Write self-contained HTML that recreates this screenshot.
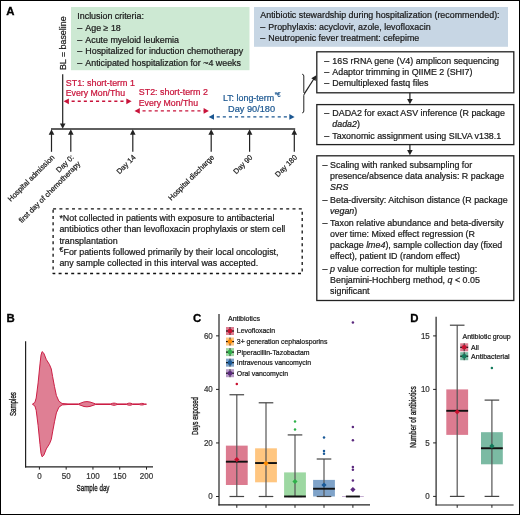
<!DOCTYPE html>
<html><head><meta charset="utf-8"><style>
html,body{margin:0;padding:0;background:#fff;}
svg{display:block;font-family:"Liberation Sans", sans-serif;will-change:transform;}
text{stroke-width:0.22px;}
</style></head><body>
<svg width="520" height="515" viewBox="0 0 520 515">
<rect x="0" y="0" width="520" height="515" fill="#fff"/>
<text x="6.2" y="14.6" font-size="11.4" font-weight="bold" fill="#000" stroke="#000" style="stroke-width:0.3px">A</text>
<text x="6.6" y="322.4" font-size="11.4" font-weight="bold" fill="#000" stroke="#000" style="stroke-width:0.3px">B</text>
<text x="193.0" y="322.4" font-size="11.4" font-weight="bold" fill="#000" stroke="#000" style="stroke-width:0.3px">C</text>
<text x="410.3" y="322.4" font-size="11.4" font-weight="bold" fill="#000" stroke="#000" style="stroke-width:0.3px">D</text>
<rect x="71" y="7" width="178.5" height="63.2" fill="#cde9d3"/>
<text x="77.3" y="18.8" font-size="8.9" fill="#1a1a1a" stroke="#1a1a1a" text-anchor="start" >Inclusion criteria:</text>
<text x="77.3" y="31.1" font-size="8.9" fill="#1a1a1a" stroke="#1a1a1a">–<tspan x="85.3">Age ≥ 18</tspan></text>
<text x="77.3" y="42.6" font-size="8.9" fill="#1a1a1a" stroke="#1a1a1a">–<tspan x="85.3">Acute myeloid leukemia</tspan></text>
<text x="77.3" y="54.2" font-size="8.9" fill="#1a1a1a" stroke="#1a1a1a">–<tspan x="85.3">Hospitalized for induction chemotherapy</tspan></text>
<text x="77.3" y="65.5" font-size="8.9" fill="#1a1a1a" stroke="#1a1a1a">–<tspan x="85.3">Anticipated hospitalization for ~4 weeks</tspan></text>
<rect x="254" y="7" width="254" height="39.8" fill="#c7d6e4"/>
<text x="260.3" y="18.2" font-size="8.9" fill="#1a1a1a" stroke="#1a1a1a" text-anchor="start" >Antibiotic stewardship during hospitalization (recommended):</text>
<text x="260.3" y="29.7" font-size="8.9" fill="#1a1a1a" stroke="#1a1a1a">–<tspan x="268.3">Prophylaxis: acyclovir, azole, levofloxacin</tspan></text>
<text x="260.3" y="41.0" font-size="8.9" fill="#1a1a1a" stroke="#1a1a1a">–<tspan x="268.3">Neutropenic fever treatment: cefepime</tspan></text>
<text transform="translate(66.2,70.1) rotate(-90)" x="0" y="0" font-size="8.9" fill="#1a1a1a" stroke="#1a1a1a">BL = baseline</text>
<line x1="51" y1="129.0" x2="295.2" y2="129.0" stroke="#2a2a2a" stroke-width="1.4"/>
<line x1="51.5" y1="151.8" x2="51.5" y2="133" stroke="#222" stroke-width="1.2"/>
<path d="M51.50,129.30 L54.30,134.70 L48.70,134.70 Z" fill="#222"/>
<line x1="70.8" y1="151.8" x2="70.8" y2="133" stroke="#222" stroke-width="1.2"/>
<path d="M70.80,129.30 L73.60,134.70 L68.00,134.70 Z" fill="#222"/>
<line x1="132.8" y1="151.8" x2="132.8" y2="133" stroke="#222" stroke-width="1.2"/>
<path d="M132.80,129.30 L135.60,134.70 L130.00,134.70 Z" fill="#222"/>
<line x1="211.2" y1="151.8" x2="211.2" y2="133" stroke="#222" stroke-width="1.2"/>
<path d="M211.20,129.30 L214.00,134.70 L208.40,134.70 Z" fill="#222"/>
<line x1="249.6" y1="151.8" x2="249.6" y2="133" stroke="#222" stroke-width="1.2"/>
<path d="M249.60,129.30 L252.40,134.70 L246.80,134.70 Z" fill="#222"/>
<line x1="294.3" y1="151.8" x2="294.3" y2="133" stroke="#222" stroke-width="1.2"/>
<path d="M294.30,129.30 L297.10,134.70 L291.50,134.70 Z" fill="#222"/>
<line x1="62.7" y1="74.3" x2="62.7" y2="124" stroke="#222" stroke-width="1.2"/>
<path d="M62.70,128.80 L59.90,123.40 L65.50,123.40 Z" fill="#222"/>
<line x1="68.6" y1="101.3" x2="126.6" y2="101.3" stroke="#c8133a" stroke-width="1.4" stroke-dasharray="3.1,3" stroke-dashoffset="-3"/>
<path d="M63.60,101.30 L68.90,98.40 L68.90,104.20 Z" fill="#c8133a"/>
<path d="M131.60,101.30 L126.30,104.20 L126.30,98.40 Z" fill="#c8133a"/>
<line x1="139.5" y1="110.9" x2="203.9" y2="110.9" stroke="#c8133a" stroke-width="1.4" stroke-dasharray="3.1,3" stroke-dashoffset="-3"/>
<path d="M134.50,110.90 L139.80,108.00 L139.80,113.80 Z" fill="#c8133a"/>
<path d="M208.90,110.90 L203.60,113.80 L203.60,108.00 Z" fill="#c8133a"/>
<line x1="213.7" y1="116.9" x2="289.6" y2="116.9" stroke="#1b5791" stroke-width="1.4" stroke-dasharray="3.1,3" stroke-dashoffset="-3"/>
<path d="M208.70,116.90 L214.00,114.00 L214.00,119.80 Z" fill="#1b5791"/>
<path d="M294.60,116.90 L289.30,119.80 L289.30,114.00 Z" fill="#1b5791"/>
<text x="65.8" y="85.6" font-size="8.9" fill="#c8133a" stroke="#c8133a" text-anchor="start" >ST1: short-term 1</text>
<text x="65.8" y="96.4" font-size="8.9" fill="#c8133a" stroke="#c8133a" text-anchor="start" textLength="59.2" lengthAdjust="spacingAndGlyphs">Every Mon/Thu</text>
<text x="138.8" y="94.7" font-size="8.9" fill="#c8133a" stroke="#c8133a" text-anchor="start" >ST2: short-term 2</text>
<text x="138.8" y="105.6" font-size="8.9" fill="#c8133a" stroke="#c8133a" text-anchor="start" textLength="59.2" lengthAdjust="spacingAndGlyphs">Every Mon/Thu</text>
<text x="222.9" y="100.7" font-size="8.9" fill="#1b5791" stroke="#1b5791">LT: long-term<tspan font-size="6.3" dx="0.6" dy="-3.3">*€</tspan></text>
<text x="228.1" y="111.9" font-size="9.2" fill="#1b5791" stroke="#1b5791" text-anchor="start" >Day 90/180</text>
<text transform="translate(55.0,157.8) rotate(-45)" x="0" y="0" font-size="7.45" fill="#1a1a1a" stroke="#1a1a1a" text-anchor="end">Hospital admission</text>
<text transform="translate(74.3,157.8) rotate(-45)" x="0" y="0" font-size="7.45" fill="#1a1a1a" stroke="#1a1a1a" text-anchor="end">Day 0:</text>
<text transform="translate(80.8,164.3) rotate(-45)" x="0" y="0" font-size="7.45" fill="#1a1a1a" stroke="#1a1a1a" text-anchor="end">first day of chemotherapy</text>
<text transform="translate(136.2,157.8) rotate(-45)" x="0" y="0" font-size="7.45" fill="#1a1a1a" stroke="#1a1a1a" text-anchor="end">Day 14</text>
<text transform="translate(214.6,157.8) rotate(-45)" x="0" y="0" font-size="7.45" fill="#1a1a1a" stroke="#1a1a1a" text-anchor="end">Hospital discharge</text>
<text transform="translate(253.0,157.8) rotate(-45)" x="0" y="0" font-size="7.45" fill="#1a1a1a" stroke="#1a1a1a" text-anchor="end">Day 90</text>
<text transform="translate(297.7,157.8) rotate(-45)" x="0" y="0" font-size="7.45" fill="#1a1a1a" stroke="#1a1a1a" text-anchor="end">Day 180</text>
<rect x="53.1" y="208.8" width="249.1" height="64.7" fill="none" stroke="#111" stroke-width="1.3" stroke-dasharray="3,3.3" stroke-linejoin="round"/>
<text x="59.4" y="221.1" font-size="8.9" fill="#1a1a1a" stroke="#1a1a1a" text-anchor="start" >*Not collected in patients with exposure to antibacterial</text>
<text x="59.4" y="232.1" font-size="8.9" fill="#1a1a1a" stroke="#1a1a1a" text-anchor="start" >antibiotics other than levofloxacin prophylaxis or stem cell</text>
<text x="59.4" y="243.5" font-size="8.9" fill="#1a1a1a" stroke="#1a1a1a" text-anchor="start" >transplantation</text>
<text x="59.4" y="254.5" font-size="8.9" fill="#1a1a1a" stroke="#1a1a1a"><tspan font-size="6.8" dy="-3">€</tspan><tspan dy="3" dx="0.3">For patients followed primarily by their local oncologist,</tspan></text>
<text x="59.4" y="265.6" font-size="8.9" fill="#1a1a1a" stroke="#1a1a1a" text-anchor="start" >any sample collected in this interval was accepted.</text>
<rect x="316.8" y="51.8" width="196.99999999999994" height="41.0" fill="none" stroke="#222" stroke-width="1.3"/>
<rect x="316.8" y="104.6" width="196.99999999999994" height="40.0" fill="none" stroke="#222" stroke-width="1.3"/>
<rect x="316.8" y="155.8" width="196.99999999999994" height="144.7" fill="none" stroke="#222" stroke-width="1.3"/>
<line x1="409.9" y1="92.8" x2="409.9" y2="100" stroke="#222" stroke-width="1.2"/>
<path d="M409.90,104.20 L407.10,99.00 L412.70,99.00 Z" fill="#222"/>
<line x1="409.9" y1="144.6" x2="409.9" y2="151" stroke="#222" stroke-width="1.2"/>
<path d="M409.90,155.30 L407.10,150.10 L412.70,150.10 Z" fill="#222"/>
<path d="M302.2,74.2 Q303.8,74.4 303.8,76 L303.8,91.8 Q303.8,93.4 305,93.6 Q303.8,93.8 303.8,95.4 L303.8,111 Q303.8,112.8 302.2,112.9" fill="none" stroke="#222" stroke-width="1.0"/>
<line x1="304.6" y1="93.4" x2="313.8" y2="79.0" stroke="#222" stroke-width="1.2"/>
<path d="M316.30,75.20 L315.68,80.98 L311.30,78.17 Z" fill="#222"/>
<text x="324.3" y="63.6" font-size="8.9" fill="#1a1a1a" stroke="#1a1a1a">–</text>
<text x="332.3" y="63.6" font-size="8.9" fill="#1a1a1a" stroke="#1a1a1a">16S rRNA gene (V4) amplicon sequencing</text>
<text x="324.3" y="74.6" font-size="8.9" fill="#1a1a1a" stroke="#1a1a1a">–</text>
<text x="332.3" y="74.6" font-size="8.9" fill="#1a1a1a" stroke="#1a1a1a">Adaptor trimming in QIIME 2 (SHI7)</text>
<text x="324.3" y="86.3" font-size="8.9" fill="#1a1a1a" stroke="#1a1a1a">–</text>
<text x="332.3" y="86.3" font-size="8.9" fill="#1a1a1a" stroke="#1a1a1a">Demultiplexed fastq files</text>
<text x="324.3" y="115.6" font-size="8.9" fill="#1a1a1a" stroke="#1a1a1a">–</text>
<text x="332.3" y="115.6" font-size="8.9" fill="#1a1a1a" stroke="#1a1a1a">DADA2 for exact ASV inference (R package</text>
<text x="332.3" y="126.89999999999999" font-size="8.9" fill="#1a1a1a" stroke="#1a1a1a"><tspan font-style="italic">dada2</tspan>)</text>
<text x="324.3" y="138.8" font-size="8.9" fill="#1a1a1a" stroke="#1a1a1a">–</text>
<text x="332.3" y="138.8" font-size="8.9" fill="#1a1a1a" stroke="#1a1a1a">Taxonomic assignment using SILVA v138.1</text>
<text x="322.4" y="168.1" font-size="8.9" fill="#1a1a1a" stroke="#1a1a1a">–</text>
<text x="330.1" y="168.1" font-size="8.9" fill="#1a1a1a" stroke="#1a1a1a">Scaling with ranked subsampling for</text>
<text x="330.1" y="179.1" font-size="8.9" fill="#1a1a1a" stroke="#1a1a1a">presence/absence data analysis: R package</text>
<text x="330.1" y="190.1" font-size="8.9" fill="#1a1a1a" stroke="#1a1a1a"><tspan font-style="italic">SRS</tspan></text>
<text x="322.4" y="202.8" font-size="8.9" fill="#1a1a1a" stroke="#1a1a1a">–</text>
<text x="330.1" y="202.8" font-size="8.9" fill="#1a1a1a" stroke="#1a1a1a">Beta-diversity: Aitchison distance (R package</text>
<text x="330.1" y="213.70000000000002" font-size="8.9" fill="#1a1a1a" stroke="#1a1a1a"><tspan font-style="italic">vegan</tspan>)</text>
<text x="322.4" y="226.2" font-size="8.9" fill="#1a1a1a" stroke="#1a1a1a">–</text>
<text x="330.1" y="226.2" font-size="8.9" fill="#1a1a1a" stroke="#1a1a1a">Taxon relative abundance and beta-diversity</text>
<text x="330.1" y="237.2" font-size="8.9" fill="#1a1a1a" stroke="#1a1a1a">over time: Mixed effect regression (R</text>
<text x="330.1" y="248.2" font-size="8.9" fill="#1a1a1a" stroke="#1a1a1a">package <tspan font-style="italic">lme4</tspan>), sample collection day (fixed</text>
<text x="330.1" y="259.2" font-size="8.9" fill="#1a1a1a" stroke="#1a1a1a">effect), patient ID (random effect)</text>
<text x="322.4" y="271.9" font-size="8.9" fill="#1a1a1a" stroke="#1a1a1a">–</text>
<text x="330.1" y="271.9" font-size="8.9" fill="#1a1a1a" stroke="#1a1a1a"><tspan font-style="italic">p</tspan> value correction for multiple testing:</text>
<text x="330.1" y="282.79999999999995" font-size="8.9" fill="#1a1a1a" stroke="#1a1a1a">Benjamini-Hochberg method, <tspan font-style="italic">q</tspan> &lt; 0.05</text>
<text x="330.1" y="293.69999999999993" font-size="8.9" fill="#1a1a1a" stroke="#1a1a1a">significant</text>
<line x1="25.6" y1="341.3" x2="25.6" y2="467.4" stroke="#222" stroke-width="1.2"/>
<line x1="25.0" y1="466.8" x2="153" y2="466.8" stroke="#222" stroke-width="1.2"/>
<line x1="39.40" y1="467" x2="39.40" y2="469.6" stroke="#222" stroke-width="1"/>
<text transform="translate(39.40,478.6) scale(0.92,1)" x="0" y="0" font-size="8.7" fill="#333" stroke="#333" text-anchor="middle" >0</text>
<line x1="66.17" y1="467" x2="66.17" y2="469.6" stroke="#222" stroke-width="1"/>
<text transform="translate(66.17,478.6) scale(0.92,1)" x="0" y="0" font-size="8.7" fill="#333" stroke="#333" text-anchor="middle" >50</text>
<line x1="92.95" y1="467" x2="92.95" y2="469.6" stroke="#222" stroke-width="1"/>
<text transform="translate(92.95,478.6) scale(0.92,1)" x="0" y="0" font-size="8.7" fill="#333" stroke="#333" text-anchor="middle" >100</text>
<line x1="119.72" y1="467" x2="119.72" y2="469.6" stroke="#222" stroke-width="1"/>
<text transform="translate(119.72,478.6) scale(0.92,1)" x="0" y="0" font-size="8.7" fill="#333" stroke="#333" text-anchor="middle" >150</text>
<line x1="146.50" y1="467" x2="146.50" y2="469.6" stroke="#222" stroke-width="1"/>
<text transform="translate(146.50,478.6) scale(0.92,1)" x="0" y="0" font-size="8.7" fill="#333" stroke="#333" text-anchor="middle" >200</text>
<text x="93" y="490.6" font-size="9.8" fill="#1a1a1a" stroke="#1a1a1a" text-anchor="middle" textLength="33" lengthAdjust="spacingAndGlyphs" style="stroke-width:0.35px">Sample day</text>
<text transform="translate(16.4,404.1) rotate(-90)" font-size="9.0" fill="#1a1a1a" stroke="#1a1a1a" text-anchor="middle" textLength="24" lengthAdjust="spacingAndGlyphs" style="stroke-width:0.35px">Samples</text>
<path d="M32.40,404.20 L34.90,402.40 L36.20,398.00 L38.10,382.90 L40.00,363.90 L41.00,355.10 L42.10,351.60 L43.80,353.20 L46.30,359.50 L49.50,364.60 L51.30,369.00 L52.60,376.50 L54.50,386.60 L56.40,395.50 L58.90,401.20 L62.10,403.50 L68.00,403.90 L78.50,403.90 L81.00,403.00 L84.00,401.90 L87.00,401.60 L90.00,402.00 L93.00,403.00 L95.60,403.90 L110.80,403.90 L112.50,403.30 L114.00,403.10 L115.50,403.30 L117.00,403.90 L126.80,403.90 L128.20,403.30 L129.60,403.10 L131.00,403.30 L132.60,403.90 L139.20,403.90 L140.50,403.50 L141.70,403.40 L143.00,403.50 L144.30,403.90 L146.50,404.20 L146.50,404.20 L144.30,404.50 L143.00,404.90 L141.70,405.00 L140.50,404.90 L139.20,404.50 L132.60,404.50 L131.00,405.10 L129.60,405.30 L128.20,405.10 L126.80,404.50 L117.00,404.50 L115.50,405.10 L114.00,405.30 L112.50,405.10 L110.80,404.50 L95.60,404.50 L93.00,405.40 L90.00,406.40 L87.00,406.80 L84.00,406.50 L81.00,405.40 L78.50,404.50 L68.00,404.50 L62.10,404.90 L58.90,407.20 L56.40,412.90 L54.50,421.80 L52.60,431.90 L51.30,439.40 L49.50,443.80 L46.30,448.90 L43.80,455.20 L42.10,456.80 L41.00,453.30 L40.00,444.50 L38.10,425.50 L36.20,410.40 L34.90,406.00 L32.40,404.20 Z" fill="#df7f94" stroke="#c9173f" stroke-width="0.95" stroke-linejoin="round"/>
<line x1="219" y1="314" x2="219" y2="505.4" stroke="#222" stroke-width="1.2"/>
<line x1="218.4" y1="504.8" x2="370" y2="504.8" stroke="#222" stroke-width="1.2"/>
<line x1="216" y1="496.50" x2="219" y2="496.50" stroke="#222" stroke-width="1"/>
<text transform="translate(212.8,499.40) scale(0.92,1)" x="0" y="0" font-size="8.7" fill="#333" stroke="#333" text-anchor="end" >0</text>
<line x1="216" y1="442.95" x2="219" y2="442.95" stroke="#222" stroke-width="1"/>
<text transform="translate(212.8,445.85) scale(0.92,1)" x="0" y="0" font-size="8.7" fill="#333" stroke="#333" text-anchor="end" >20</text>
<line x1="216" y1="389.40" x2="219" y2="389.40" stroke="#222" stroke-width="1"/>
<text transform="translate(212.8,392.30) scale(0.92,1)" x="0" y="0" font-size="8.7" fill="#333" stroke="#333" text-anchor="end" >40</text>
<line x1="216" y1="335.85" x2="219" y2="335.85" stroke="#222" stroke-width="1"/>
<text transform="translate(212.8,338.75) scale(0.92,1)" x="0" y="0" font-size="8.7" fill="#333" stroke="#333" text-anchor="end" >60</text>
<text transform="translate(198.0,416.1) rotate(-90)" font-size="9.8" fill="#1a1a1a" stroke="#1a1a1a" text-anchor="middle" textLength="37.8" lengthAdjust="spacingAndGlyphs" style="stroke-width:0.35px">Days exposed</text>
<rect x="225.90" y="445.63" width="21.8" height="39.36" fill="#dc7b90"/>
<line x1="236.8" y1="394.75" x2="236.8" y2="496.50" stroke="#555" stroke-width="1.2"/>
<line x1="229.50" y1="394.75" x2="244.10" y2="394.75" stroke="#444" stroke-width="1.2"/>
<line x1="229.50" y1="496.50" x2="244.10" y2="496.50" stroke="#444" stroke-width="1.2"/>
<line x1="225.90" y1="461.69" x2="247.70" y2="461.69" stroke="#111" stroke-width="1.9"/>
<path d="M236.8,456.95 L239.4,459.55 L236.8,462.15 L234.20000000000002,459.55 Z" fill="#c8102e"/>
<circle cx="236.8" cy="384.04" r="1.25" fill="#c8102e"/>
<rect x="255.10" y="448.31" width="21.8" height="34.00" fill="#ffc680"/>
<line x1="266.0" y1="402.79" x2="266.0" y2="496.50" stroke="#555" stroke-width="1.2"/>
<line x1="258.70" y1="402.79" x2="273.30" y2="402.79" stroke="#444" stroke-width="1.2"/>
<line x1="258.70" y1="496.50" x2="273.30" y2="496.50" stroke="#444" stroke-width="1.2"/>
<line x1="255.10" y1="463.03" x2="276.90" y2="463.03" stroke="#111" stroke-width="1.9"/>
<path d="M266.0,460.70 L268.6,463.30 L266.0,465.90 L263.4,463.30 Z" fill="#ff8c00"/>
<rect x="284.10" y="472.40" width="21.8" height="24.10" fill="#9dd8a2"/>
<line x1="295.0" y1="434.92" x2="295.0" y2="496.50" stroke="#555" stroke-width="1.2"/>
<line x1="287.70" y1="434.92" x2="302.30" y2="434.92" stroke="#444" stroke-width="1.2"/>
<line x1="287.70" y1="496.50" x2="302.30" y2="496.50" stroke="#444" stroke-width="1.2"/>
<line x1="284.10" y1="496.50" x2="305.90" y2="496.50" stroke="#111" stroke-width="1.9"/>
<path d="M295.0,478.91 L297.6,481.51 L295.0,484.11 L292.4,481.51 Z" fill="#2eb14a"/>
<circle cx="295.0" cy="429.56" r="1.25" fill="#2eb14a"/>
<circle cx="295.0" cy="421.53" r="1.25" fill="#2eb14a"/>
<rect x="313.10" y="479.90" width="21.8" height="16.60" fill="#7fa3c9"/>
<line x1="324.0" y1="459.01" x2="324.0" y2="496.50" stroke="#555" stroke-width="1.2"/>
<line x1="316.70" y1="459.01" x2="331.30" y2="459.01" stroke="#444" stroke-width="1.2"/>
<line x1="316.70" y1="496.50" x2="331.30" y2="496.50" stroke="#444" stroke-width="1.2"/>
<line x1="313.10" y1="488.74" x2="334.90" y2="488.74" stroke="#111" stroke-width="1.9"/>
<path d="M324.0,482.39 L326.6,484.99 L324.0,487.59 L321.4,484.99 Z" fill="#1a5a98"/>
<circle cx="324.0" cy="453.66" r="1.25" fill="#1a5a98"/>
<circle cx="324.0" cy="450.98" r="1.25" fill="#1a5a98"/>
<circle cx="324.0" cy="437.59" r="1.25" fill="#1a5a98"/>
<line x1="342.00" y1="496.50" x2="363.80" y2="496.50" stroke="#b89ac8" stroke-width="0.8"/>
<line x1="345.90" y1="496.50" x2="359.90" y2="496.50" stroke="#111" stroke-width="1.9"/>
<path d="M352.9,486.94 L355.5,489.54 L352.9,492.14 L350.29999999999995,489.54 Z" fill="#5b2a7e"/>
<circle cx="352.9" cy="480.44" r="1.25" fill="#5b2a7e"/>
<circle cx="352.9" cy="469.73" r="1.25" fill="#5b2a7e"/>
<circle cx="352.9" cy="467.05" r="1.25" fill="#5b2a7e"/>
<circle cx="352.9" cy="440.27" r="1.25" fill="#5b2a7e"/>
<circle cx="352.9" cy="426.88" r="1.25" fill="#5b2a7e"/>
<circle cx="352.9" cy="322.46" r="1.25" fill="#5b2a7e"/>
<line x1="236.8" y1="505" x2="236.8" y2="507.8" stroke="#222" stroke-width="1"/>
<line x1="266.0" y1="505" x2="266.0" y2="507.8" stroke="#222" stroke-width="1"/>
<line x1="295.0" y1="505" x2="295.0" y2="507.8" stroke="#222" stroke-width="1"/>
<line x1="324.0" y1="505" x2="324.0" y2="507.8" stroke="#222" stroke-width="1"/>
<line x1="352.9" y1="505" x2="352.9" y2="507.8" stroke="#222" stroke-width="1"/>
<text x="228.0" y="321.2" font-size="7" fill="#1a1a1a" stroke="#1a1a1a" text-anchor="start" >Antibiotics</text>
<rect x="226.00" y="327.00" width="8" height="8" fill="#dc7b90"/>
<line x1="226.00" y1="331.0" x2="234.00" y2="331.0" stroke="#111" stroke-width="1.2"/>
<line x1="230.0" y1="327.00" x2="230.0" y2="335.00" stroke="#333" stroke-width="1"/>
<circle cx="230.0" cy="331.0" r="2.3" fill="#c8102e"/>
<text x="236.8" y="333.40" font-size="6.9" fill="#1a1a1a" stroke="#1a1a1a" text-anchor="start" >Levofloxacin</text>
<rect x="226.00" y="337.55" width="8" height="8" fill="#ffc680"/>
<line x1="226.00" y1="341.55" x2="234.00" y2="341.55" stroke="#111" stroke-width="1.2"/>
<line x1="230.0" y1="337.55" x2="230.0" y2="345.55" stroke="#333" stroke-width="1"/>
<circle cx="230.0" cy="341.55" r="2.3" fill="#ff8c00"/>
<text x="236.8" y="343.95" font-size="6.9" fill="#1a1a1a" stroke="#1a1a1a" text-anchor="start" >3+ generation cephalosporins</text>
<rect x="226.00" y="348.10" width="8" height="8" fill="#9dd8a2"/>
<line x1="226.00" y1="352.1" x2="234.00" y2="352.1" stroke="#111" stroke-width="1.2"/>
<line x1="230.0" y1="348.10" x2="230.0" y2="356.10" stroke="#333" stroke-width="1"/>
<circle cx="230.0" cy="352.1" r="2.3" fill="#2eb14a"/>
<text x="236.8" y="354.50" font-size="6.9" fill="#1a1a1a" stroke="#1a1a1a" text-anchor="start" >Piperacillin-Tazobactam</text>
<rect x="226.00" y="358.65" width="8" height="8" fill="#7fa3c9"/>
<line x1="226.00" y1="362.65" x2="234.00" y2="362.65" stroke="#111" stroke-width="1.2"/>
<line x1="230.0" y1="358.65" x2="230.0" y2="366.65" stroke="#333" stroke-width="1"/>
<circle cx="230.0" cy="362.65" r="2.3" fill="#1a5a98"/>
<text x="236.8" y="365.05" font-size="6.9" fill="#1a1a1a" stroke="#1a1a1a" text-anchor="start" >Intravenous vancomycin</text>
<rect x="226.00" y="369.20" width="8" height="8" fill="#b89ac8"/>
<line x1="226.00" y1="373.2" x2="234.00" y2="373.2" stroke="#111" stroke-width="1.2"/>
<line x1="230.0" y1="369.20" x2="230.0" y2="377.20" stroke="#333" stroke-width="1"/>
<circle cx="230.0" cy="373.2" r="2.3" fill="#5b2a7e"/>
<text x="236.8" y="375.60" font-size="6.9" fill="#1a1a1a" stroke="#1a1a1a" text-anchor="start" >Oral vancomycin</text>
<line x1="436.1" y1="316.8" x2="436.1" y2="505.6" stroke="#222" stroke-width="1.2"/>
<line x1="435.5" y1="505" x2="513.6" y2="505" stroke="#222" stroke-width="1.2"/>
<line x1="433.1" y1="496.40" x2="436.1" y2="496.40" stroke="#222" stroke-width="1"/>
<text transform="translate(429.8,499.30) scale(0.92,1)" x="0" y="0" font-size="8.7" fill="#333" stroke="#333" text-anchor="end" >0</text>
<line x1="433.1" y1="442.90" x2="436.1" y2="442.90" stroke="#222" stroke-width="1"/>
<text transform="translate(429.8,445.80) scale(0.92,1)" x="0" y="0" font-size="8.7" fill="#333" stroke="#333" text-anchor="end" >5</text>
<line x1="433.1" y1="389.40" x2="436.1" y2="389.40" stroke="#222" stroke-width="1"/>
<text transform="translate(429.8,392.30) scale(0.92,1)" x="0" y="0" font-size="8.7" fill="#333" stroke="#333" text-anchor="end" >10</text>
<line x1="433.1" y1="335.90" x2="436.1" y2="335.90" stroke="#222" stroke-width="1"/>
<text transform="translate(429.8,338.80) scale(0.92,1)" x="0" y="0" font-size="8.7" fill="#333" stroke="#333" text-anchor="end" >15</text>
<text transform="translate(415.8,417.0) rotate(-90)" font-size="9.8" fill="#1a1a1a" stroke="#1a1a1a" text-anchor="middle" textLength="61.5" lengthAdjust="spacingAndGlyphs" style="stroke-width:0.35px">Number of antibiotics</text>
<rect x="446.30" y="389.40" width="21.8" height="45.48" fill="#dc7b90"/>
<line x1="457.2" y1="325.20" x2="457.2" y2="496.40" stroke="#555" stroke-width="1.2"/>
<line x1="449.90" y1="325.20" x2="464.50" y2="325.20" stroke="#444" stroke-width="1.2"/>
<line x1="449.90" y1="496.40" x2="464.50" y2="496.40" stroke="#444" stroke-width="1.2"/>
<line x1="446.30" y1="410.80" x2="468.10" y2="410.80" stroke="#111" stroke-width="1.9"/>
<path d="M457.2,409.27 L459.8,411.87 L457.2,414.47 L454.59999999999997,411.87 Z" fill="#c8102e"/>
<rect x="481.00" y="432.20" width="21.8" height="32.10" fill="#7bbaa3"/>
<line x1="491.9" y1="400.10" x2="491.9" y2="496.40" stroke="#555" stroke-width="1.2"/>
<line x1="484.60" y1="400.10" x2="499.20" y2="400.10" stroke="#444" stroke-width="1.2"/>
<line x1="484.60" y1="496.40" x2="499.20" y2="496.40" stroke="#444" stroke-width="1.2"/>
<line x1="481.00" y1="448.25" x2="502.80" y2="448.25" stroke="#111" stroke-width="1.9"/>
<path d="M491.9,443.51 L494.5,446.11 L491.9,448.71 L489.29999999999995,446.11 Z" fill="#137a5c"/>
<circle cx="491.9" cy="368.00" r="1.25" fill="#137a5c"/>
<line x1="457.2" y1="505" x2="457.2" y2="507.8" stroke="#222" stroke-width="1"/>
<line x1="491.9" y1="505" x2="491.9" y2="507.8" stroke="#222" stroke-width="1"/>
<text x="462.5" y="338.6" font-size="7" fill="#1a1a1a" stroke="#1a1a1a" text-anchor="start" >Antibiotic group</text>
<rect x="460.20" y="343.30" width="8" height="8" fill="#dc7b90"/>
<line x1="460.20" y1="347.3" x2="468.20" y2="347.3" stroke="#111" stroke-width="1.2"/>
<line x1="464.2" y1="343.30" x2="464.2" y2="351.30" stroke="#333" stroke-width="1"/>
<circle cx="464.2" cy="347.3" r="2.3" fill="#c8102e"/>
<text x="471.1" y="349.70" font-size="7" fill="#1a1a1a" stroke="#1a1a1a" text-anchor="start" >All</text>
<rect x="460.20" y="352.20" width="8" height="8" fill="#7bbaa3"/>
<line x1="460.20" y1="356.2" x2="468.20" y2="356.2" stroke="#111" stroke-width="1.2"/>
<line x1="464.2" y1="352.20" x2="464.2" y2="360.20" stroke="#333" stroke-width="1"/>
<circle cx="464.2" cy="356.2" r="2.3" fill="#137a5c"/>
<text x="471.1" y="358.60" font-size="7" fill="#1a1a1a" stroke="#1a1a1a" text-anchor="start" >Antibacterial</text>
<rect x="0.5" y="0.5" width="519" height="514" fill="none" stroke="#000" stroke-width="1"/>
</svg>
</body></html>
